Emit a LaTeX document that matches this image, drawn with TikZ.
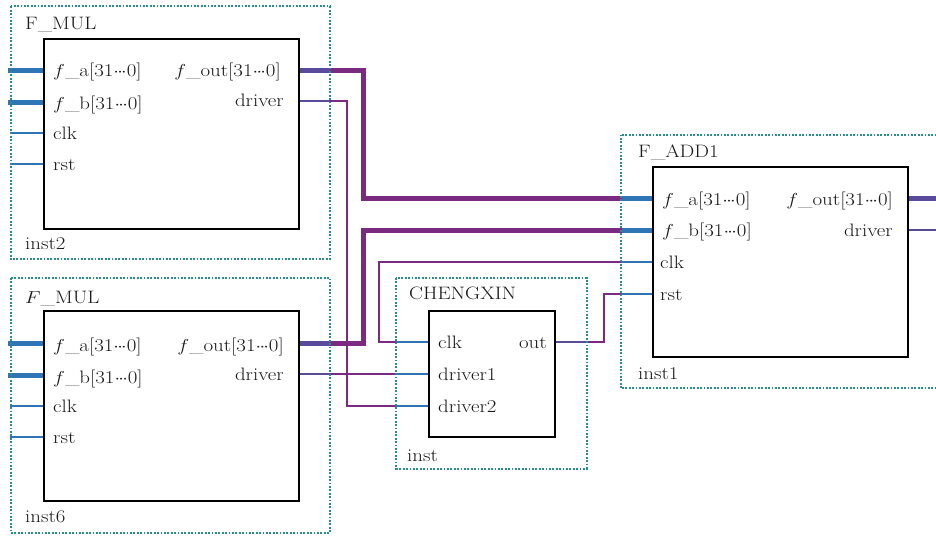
\documentclass[tikz,border=0pt]{standalone}
\usepackage{graphicx}
\definecolor{pblue}{HTML}{2F74B5}
\definecolor{pslate}{HTML}{5A4A9C}
\definecolor{wpurple}{HTML}{7A2A7F}
\definecolor{fteal}{HTML}{2A8C8C}
\newcommand{\lb}[1]{\scalebox{1.16}[1]{#1}}
\newcommand{\dd}{${\cdot}\mkern-1.5mu{\cdot}\mkern-1.5mu{\cdot}$}
\tikzset{
  frame/.style={draw=fteal, line width=2pt, dash pattern=on 1.8pt off 1.6pt},
  blk/.style={draw=black, line width=1.8pt, fill=white, anchor=north west, inner sep=0pt},
  bus/.style={line width=5pt},
  sig/.style={line width=1.5pt},
  lbl/.style={font=\fontsize{18}{22}\selectfont, inner sep=0pt, text=black!90},
  lw/.style={lbl, anchor=base west},
  le/.style={lbl, anchor=base east}
}
\begin{document}
\begin{tikzpicture}[x=1pt,y=-1pt]
\useasboundingbox (0,0) rectangle (936,535);
\clip (0,0) rectangle (936,535);

% ---------- port coordinates ----------
% inst2
\coordinate (b2fa) at (43,70);  \coordinate (e2fa) at (8,70);
\coordinate (b2fb) at (43,102); \coordinate (e2fb) at (8,102);
\coordinate (b2clk) at (43,133); \coordinate (e2clk) at (10,133);
\coordinate (b2rst) at (43,164); \coordinate (e2rst) at (10,164);
\coordinate (b2out) at (298,70);  \coordinate (f2out) at (330,70);
\coordinate (b2drv) at (298,101); \coordinate (f2drv) at (330,101);
% inst6
\coordinate (b6fa) at (43,343);  \coordinate (e6fa) at (8,343);
\coordinate (b6fb) at (43,375); \coordinate (e6fb) at (8,375);
\coordinate (b6clk) at (43,406); \coordinate (e6clk) at (10,406);
\coordinate (b6rst) at (43,437); \coordinate (e6rst) at (10,437);
\coordinate (b6out) at (298,343);  \coordinate (f6out) at (330,343);
\coordinate (b6drv) at (298,374); \coordinate (f6drv) at (330,374);
% inst (CHENGXIN)
\coordinate (bcclk) at (428,342); \coordinate (fcclk) at (396,342);
\coordinate (bcd1) at (428,374);  \coordinate (fcd1) at (396,374);
\coordinate (bcd2) at (428,406);  \coordinate (fcd2) at (396,406);
\coordinate (bcout) at (554,342); \coordinate (fcout) at (587,342);
% inst1
\coordinate (b1fa) at (652,198);  \coordinate (f1fa) at (622,198);
\coordinate (b1fb) at (652,230);  \coordinate (f1fb) at (622,230);
\coordinate (b1clk) at (652,262); \coordinate (f1clk) at (621,262);
\coordinate (b1rst) at (652,294); \coordinate (f1rst) at (621,294);
\coordinate (b1out) at (907,198); \coordinate (e1out) at (940,198);
\coordinate (b1drv) at (907,230); \coordinate (e1drv) at (940,230);
% bends
\coordinate (k1) at (363,70);
\coordinate (k2) at (363,343);
\coordinate (k3) at (347,101);
\coordinate (k4) at (379,262);
\coordinate (k5) at (604,342);

% ---------- wires ----------
\draw[bus,wpurple] (f2out) -- (k1) |- (f1fa);
\draw[bus,wpurple] (f6out) -- (k2) |- (f1fb);
\draw[sig,wpurple] (f2drv) -- (k3) |- (fcd2);
\draw[sig,wpurple] (f6drv) -- (fcd1);
\draw[sig,wpurple] (f1clk) -- (k4) |- (fcclk);
\draw[sig,wpurple] (fcout) -- (k5) |- (f1rst);

% ---------- port stubs ----------
\draw[bus,pblue] (e2fa) -- (b2fa);
\draw[bus,pblue] (e2fb) -- (b2fb);
\draw[sig,pblue] (e2clk) -- (b2clk);
\draw[sig,pblue] (e2rst) -- (b2rst);
\draw[bus,pslate] (b2out) -- (f2out);
\draw[sig,pslate] (b2drv) -- (f2drv);

\draw[bus,pblue] (e6fa) -- (b6fa);
\draw[bus,pblue] (e6fb) -- (b6fb);
\draw[sig,pblue] (e6clk) -- (b6clk);
\draw[sig,pblue] (e6rst) -- (b6rst);
\draw[bus,pslate] (b6out) -- (f6out);
\draw[sig,pslate] (b6drv) -- (f6drv);

\draw[sig,pblue] (fcclk) -- (bcclk);
\draw[sig,pblue] (fcd1) -- (bcd1);
\draw[sig,pblue] (fcd2) -- (bcd2);
\draw[sig,pslate] (bcout) -- (fcout);

\draw[bus,pblue] (f1fa) -- (b1fa);
\draw[bus,pblue] (f1fb) -- (b1fb);
\draw[sig,pblue] (f1clk) -- (b1clk);
\draw[sig,pblue] (f1rst) -- (b1rst);
\draw[bus,pslate] (b1out) -- (e1out);
\draw[sig,pslate] (b1drv) -- (e1drv);

% ---------- frames ----------
\draw[frame] (10.5,6.5) rectangle (330,259);
\draw[frame] (10.5,278) rectangle (330,532.5);
\draw[frame] (396,278) rectangle (586.5,468.5);
\draw[frame] (620.5,134.5) rectangle (950,388);

% ---------- blocks ----------
\node[blk, minimum width=255pt, minimum height=190pt] (b2) at (43,38) {};
\node[blk, minimum width=255pt, minimum height=190pt] (b6) at (43,310) {};
\node[blk, minimum width=126pt, minimum height=126pt] (bc) at (428,310) {};
\node[blk, minimum width=255pt, minimum height=190pt] (b1) at (652,166) {};

% ---------- labels ----------
\node[lw] (t2) at (25,30) {\lb{F\_MUL}};
\node[lw] (n2) at (25,249) {\lb{inst2}};
\node[lw] (l2a) at (53,77) {\lb{$f$\_a[31\dd0]}};
\node[lw] (l2b) at (53,109) {\lb{$f$\_b[31\dd0]}};
\node[lw] (l2c) at (53,139) {\lb{clk}};
\node[lw] (l2r) at (53,170) {\lb{rst}};
\node[le] (l2o) at (281,77) {\lb{$f$\_out[31\dd0]}};
\node[le] (l2d) at (284,106) {\lb{driver}};

\node[lw] (t6) at (25,303) {\lb{$F$\_MUL}};
\node[lw] (n6) at (25,522) {\lb{inst6}};
\node[lw] (l6a) at (53,351) {\lb{$f$\_a[31\dd0]}};
\node[lw] (l6b) at (53,383) {\lb{$f$\_b[31\dd0]}};
\node[lw] (l6c) at (53,412) {\lb{clk}};
\node[lw] (l6r) at (53,443) {\lb{rst}};
\node[le] (l6o) at (284,351) {\lb{$f$\_out[31\dd0]}};
\node[le] (l6d) at (284,380) {\lb{driver}};

\node[lw] (tc) at (409,299) {\lb{CHENGXIN}};
\node[lw] (nc) at (407,461) {\lb{inst}};
\node[lw] (lcc) at (438,348) {\lb{clk}};
\node[lw] (lc1) at (438,380) {\lb{driver1}};
\node[lw] (lc2) at (438,412) {\lb{driver2}};
\node[le] (lco) at (547,348) {\lb{out}};

\node[lw] (t1) at (638,157) {\lb{F\_ADD1}};
\node[lw] (n1) at (638,379) {\lb{inst1}};
\node[lw] (l1a) at (662,205) {\lb{$f$\_a[31\dd0]}};
\node[lw] (l1b) at (662,236) {\lb{$f$\_b[31\dd0]}};
\node[lw] (l1c) at (660,268) {\lb{clk}};
\node[lw] (l1r) at (660,300) {\lb{rst}};
\node[le] (l1o) at (893,205) {\lb{$f$\_out[31\dd0]}};
\node[le] (l1d) at (893,236) {\lb{driver}};
\end{tikzpicture}
\end{document}
